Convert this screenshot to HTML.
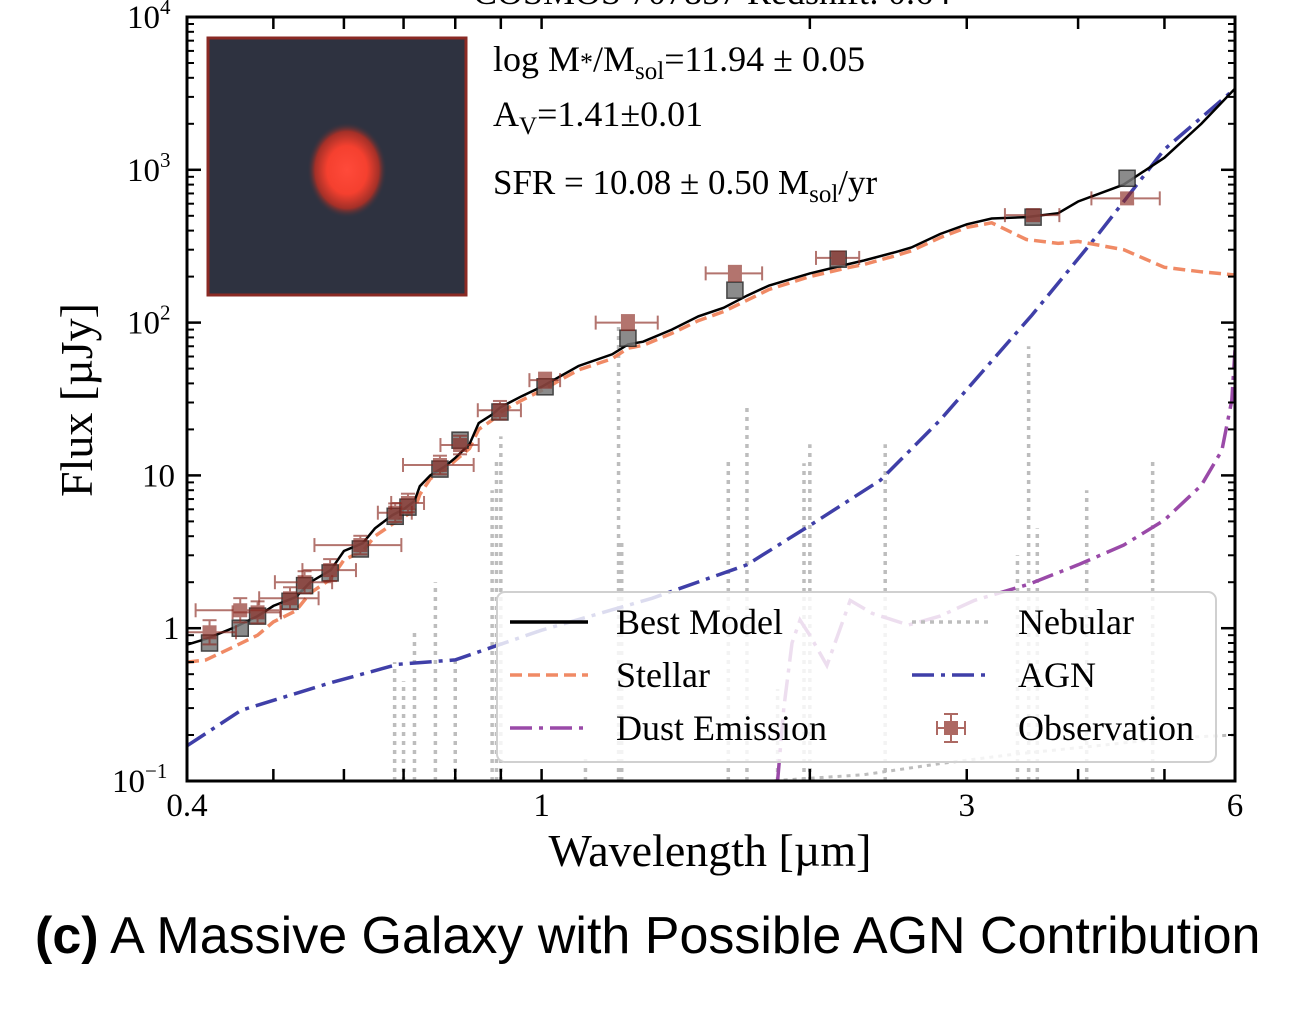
<!DOCTYPE html>
<html><head><meta charset="utf-8">
<style>
html,body{margin:0;padding:0;background:#fff;}
body{width:1314px;height:1016px;overflow:hidden;position:relative;font-family:"Liberation Serif",serif;}
svg{position:absolute;left:0;top:0;}
</style></head>
<body>
<svg id="chart" width="1314" height="1016" viewBox="0 0 1314 1016" xmlns="http://www.w3.org/2000/svg">
  <defs>
    <radialGradient id="blob" cx="50%" cy="50%" r="50%">
      <stop offset="0%" stop-color="#ff4a3a"/>
      <stop offset="50%" stop-color="#f5402f"/>
      <stop offset="80%" stop-color="#a33028"/>
      <stop offset="100%" stop-color="#303440" stop-opacity="0"/>
    </radialGradient>
    <clipPath id="plotclip"><rect x="187" y="17" width="1048" height="764"/></clipPath>
  </defs>
  <text x="712" y="4" text-anchor="middle" font-size="36" font-family="Liberation Serif, serif">COSMOS 707857 Redshift: 0.64</text>
  <g id="plot" clip-path="url(#plotclip)"></g>
  <g id="legend"></g>
  <g id="axes"></g>
</svg>
<div style="position:absolute;left:35px;top:906px;font-family:'Liberation Sans',sans-serif;font-size:52px;color:#000;white-space:nowrap;"><b>(c)</b> A Massive Galaxy with Possible AGN Contribution</div>
<script>
// ---- data ----
const modelWave = [0.4,0.42,0.45,0.48,0.5,0.53,0.55,0.58,0.6,0.63,0.65,0.68,0.7,0.72,0.73,0.75,0.78,0.8,0.83,0.85,0.88,0.9,0.95,1.0,1.1,1.2,1.25,1.3,1.4,1.5,1.6,1.7,1.8,2.0,2.2,2.3,2.5,2.6,2.8,3.0,3.2,3.5,3.8,4.0,4.5,5.0,5.5,6.0];
const modelFlux = [0.78,0.85,1.0,1.2,1.4,1.6,2.0,2.4,3.2,3.6,4.5,5.5,6.0,6.8,8.5,10,11.5,13,16,22,25,28,33,38,52,62,72,75,90,110,125,150,175,210,240,255,290,310,380,440,480,490,520,620,800,1200,2000,3400];
const stellarFlux = [0.6,0.62,0.75,0.9,1.1,1.3,1.7,2.1,2.8,3.2,4.0,4.8,5.3,6.0,7.5,9.5,11,12.5,15,20,23,26,31,36,49,58,68,71,85,103,118,140,165,200,228,240,275,295,360,420,450,350,330,340,300,230,215,205];
const agnWave = [0.4,0.46,0.58,0.69,0.8,1.0,1.33,1.7,2.0,2.4,2.8,3.55,4.2,5.0,6.0];
const agnFlux = [0.17,0.29,0.44,0.58,0.62,0.97,1.57,2.6,4.7,9.3,23,112,370,1360,3400];
const dustWave = [1.84,1.87,1.91,1.95,2.0,2.09,2.15,2.22,2.35,2.58,2.8,3.06,3.53,4.0,4.5,5.0,5.5,5.8,5.95,6.0];
const dustFlux = [0.1,0.3,0.8,1.13,0.9,0.57,0.9,1.52,1.25,1.05,1.2,1.52,1.95,2.6,3.5,5.1,8.6,14.6,31,66];
const nebWave = [0.684,0.70,0.72,0.76,0.80,0.88,0.89,0.9,1.12,1.22,1.23,1.62,1.7,1.84,1.97,2.0,2.43,3.42,3.52,3.6,4.09,4.85];
const nebFlux = [0.6,0.45,0.95,2.0,0.65,8,12.5,18,0.15,100,3.8,13,28,0.4,12,16,16,3,70,4.5,8,13];
const nebContWave = [1.35,1.8,2.3,2.8,3.4,4.2,5.0,6.0];
const nebContFlux = [0.1,0.1,0.11,0.13,0.15,0.17,0.19,0.2];
const obsWave = [0.424,0.459,0.480,0.522,0.542,0.579,0.626,0.685,0.708,0.769,0.810,0.898,1.009,1.250,1.648,2.152,3.561,4.54];
const obsFlux = [0.94,1.31,1.27,1.57,2.0,2.4,3.5,5.7,6.6,11.7,15.8,26.7,42,100,210,265,505,650];
const obsWaveErr = [0.03,0.05,0.03,0.04,0.04,0.04,0.07,0.03,0.03,0.07,0.04,0.05,0.04,0.1,0.12,0.12,0.25,0.4];
const obsFluxErrFrac = [0.2,0.2,0.18,0.18,0.18,0.18,0.15,0.15,0.15,0.15,0.15,0.15,0.12,0.12,0.12,0.1,0.08,0.08];
const modelPhotFlux = [0.8,1.0,1.2,1.5,1.9,2.3,3.3,5.4,6.2,11,17,26,38,79,163,260,490,880];
const xTickLabels = ["0.4","1","3","6"];
const xTickValues = [0.4,1,3,6];
const xMinorValues = [0.5,0.6,0.7,0.8,0.9,2,4,5];

// ---- scales ----
const X0=187,X1=1235,Y0=781,Y1=17;
const LX0=Math.log10(0.4),LX1=Math.log10(6),LY0=-1,LY1=4;
function xs(v){return X0+(Math.log10(v)-LX0)/(LX1-LX0)*(X1-X0);}
function ys(v){return Y0-(Math.log10(v)-LY0)/(LY1-LY0)*(Y0-Y1);}
const NS="http://www.w3.org/2000/svg";
function mk(tag,attrs,parent){const e=document.createElementNS(NS,tag);for(const k in attrs)e.setAttribute(k,attrs[k]);parent.appendChild(e);return e;}
function pathD(w,f){return w.map((v,i)=>(i?"L":"M")+xs(v).toFixed(1)+","+ys(f[i]).toFixed(1)).join(" ");}
const plot=document.getElementById('plot');
const axes=document.getElementById('axes');
const legend=document.getElementById('legend');

// inset image
let g=mk('g',{},plot);


mk('rect',{x:208,y:38,width:258,height:257,fill:'#2e3240',stroke:'#8a2a24','stroke-width':3},g);
mk('ellipse',{cx:347,cy:170,rx:40,ry:48,fill:'url(#blob)'},g);

// nebular lines
nebWave.forEach((w,i)=>{
  const l=mk('line',{x1:xs(w),x2:xs(w),y1:Y0,y2:ys(nebFlux[i]),stroke:'#bdbdbd','stroke-width':3.5,'stroke-dasharray':'4 5'},plot);
  
  
});
let p=mk('path',{d:pathD(nebContWave,nebContFlux),fill:'none',stroke:'#bdbdbd','stroke-width':3,'stroke-dasharray':'4 5'},plot);



// AGN
p=mk('path',{d:pathD(agnWave,agnFlux),fill:'none',stroke:'#3f3fa8','stroke-width':3.5,'stroke-dasharray':'22 7 4 7'},plot);


// dust
p=mk('path',{d:pathD(dustWave,dustFlux),fill:'none',stroke:'#9a4aa8','stroke-width':3.5,'stroke-dasharray':'22 7 4 7'},plot);


// stellar
p=mk('path',{d:pathD(modelWave,stellarFlux),fill:'none',stroke:'#f08a65','stroke-width':3.5,'stroke-dasharray':'12 6'},plot);


// model
p=mk('path',{d:pathD(modelWave,modelFlux),fill:'none',stroke:'#000','stroke-width':2.5},plot);



// model photometry squares
modelPhotFlux.forEach((f,i)=>{
  const r=mk('rect',{x:xs(obsWave[i])-8,y:ys(f)-8,width:16,height:16,fill:'#777',stroke:'#222','stroke-width':1.5,opacity:0.85},plot);
  
  
});
// observations
obsWave.forEach((w,i)=>{
  const og=mk('g',{stroke:'#8b2a22','stroke-width':2,opacity:0.65},plot);
  
  
  const f=obsFlux[i],e=obsFluxErrFrac[i],we=obsWaveErr[i];
  const xa=xs(w-we),xb=xs(w+we),x=xs(w),ya=ys(f*(1+e)),yb=ys(f/(1+e)),y=ys(f);
  mk('line',{x1:xa,x2:xb,y1:y,y2:y},og);
  mk('line',{x1:x,x2:x,y1:ya,y2:yb},og);
  mk('line',{x1:xa,x2:xa,y1:y-7,y2:y+7},og);
  mk('line',{x1:xb,x2:xb,y1:y-7,y2:y+7},og);
  mk('line',{x1:x-7,x2:x+7,y1:ya,y2:ya},og);
  mk('line',{x1:x-7,x2:x+7,y1:yb,y2:yb},og);
  mk('rect',{x:x-6,y:y-6,width:12,height:12,fill:'#8b2a22'},og);
});

// annotations
function txt(parent,x,y,html,name,size,anchor){const t=mk('text',{x:x,y:y,'font-size':size||32,'font-family':'Liberation Serif, serif','text-anchor':anchor||'start'},parent);t.innerHTML=html;return t;}
txt(plot,493,71,'log M<tspan font-size="26">*</tspan>/M<tspan font-size="25" dy="8">sol</tspan><tspan dy="-8">=11.94 ± 0.05</tspan>','stellar-mass-annotation',36);
txt(plot,493,126,'A<tspan font-size="25" dy="8">V</tspan><tspan dy="-8">=1.41±0.01</tspan>','extinction-annotation',36);
txt(plot,493,194,'SFR = 10.08 ± 0.50 M<tspan font-size="25" dy="8">sol</tspan><tspan dy="-8">/yr</tspan>','sfr-annotation',35);

// legend
let lb=mk('rect',{x:497,y:592,width:719,height:170,rx:8,fill:'#fff','fill-opacity':0.82,stroke:'#d0d0d0','stroke-width':2},legend);


const legItems=[
 {x:510,y:622,label:'Best Model',stroke:'#000',dash:'',name:'legend-best-model'},
 {x:510,y:675,label:'Stellar',stroke:'#f08a65',dash:'12 6',name:'legend-stellar'},
 {x:510,y:728,label:'Dust Emission',stroke:'#9a4aa8',dash:'22 7 4 7',name:'legend-dust-emission'},
 {x:912,y:622,label:'Nebular',stroke:'#bdbdbd',dash:'4 5',name:'legend-nebular'},
 {x:912,y:675,label:'AGN',stroke:'#3f3fa8',dash:'22 7 4 7',name:'legend-agn'},
 {x:912,y:728,label:'Observation',stroke:null,name:'legend-observation'}];
legItems.forEach(it=>{
  const lg=mk('g',{},legend);
  
  
  if(it.stroke){mk('line',{x1:it.x,x2:it.x+78,y1:it.y,y2:it.y,stroke:it.stroke,'stroke-width':3.5,'stroke-dasharray':it.dash},lg);}
  else{const og=mk('g',{stroke:'#8b2a22','stroke-width':2,opacity:0.7},lg);
    const cx=it.x+39,cy=it.y;
    mk('line',{x1:cx-14,x2:cx+14,y1:cy,y2:cy},og);mk('line',{x1:cx,x2:cx,y1:cy-14,y2:cy+14},og);
    mk('line',{x1:cx-14,x2:cx-14,y1:cy-7,y2:cy+7},og);mk('line',{x1:cx+14,x2:cx+14,y1:cy-7,y2:cy+7},og);
    mk('line',{x1:cx-7,x2:cx+7,y1:cy-14,y2:cy-14},og);mk('line',{x1:cx-7,x2:cx+7,y1:cy+14,y2:cy+14},og);
    mk('rect',{x:cx-6,y:cy-6,width:12,height:12,fill:'#8b2a22'},og);}
  txt(lg,it.x+106,it.y+12,it.label,it.name+'-label',36);
});

// axes frame
let fr=mk('rect',{x:X0,y:Y1,width:X1-X0,height:Y0-Y1,fill:'none',stroke:'#000','stroke-width':3},axes);


// x ticks
xTickValues.concat(xMinorValues).forEach(v=>{
  const x=xs(v);
  mk('line',{x1:x,x2:x,y1:Y0,y2:Y0-12,stroke:'#000','stroke-width':2.5},axes);
  mk('line',{x1:x,x2:x,y1:Y1,y2:Y1+12,stroke:'#000','stroke-width':2.5},axes);
});
xTickValues.forEach((v,i)=>{txt(axes,xs(v),816,xTickLabels[i],'x-tick-label',33,'middle');});
// y ticks
for(let d=-1;d<=4;d++){
  const y=ys(Math.pow(10,d));
  mk('line',{x1:X0,x2:X0+14,y1:y,y2:y,stroke:'#000','stroke-width':2.5},axes);
  mk('line',{x1:X1,x2:X1-14,y1:y,y2:y,stroke:'#000','stroke-width':2.5},axes);
  if(d<4){for(let m=2;m<=9;m++){const ym=ys(m*Math.pow(10,d));
    mk('line',{x1:X0,x2:X0+7,y1:ym,y2:ym,stroke:'#000','stroke-width':2},axes);
    mk('line',{x1:X1,x2:X1-7,y1:ym,y2:ym,stroke:'#000','stroke-width':2},axes);}}
}
const yLabs={'-1':'10<tspan font-size="21" dy="-14">−1</tspan>','0':'1','1':'10','2':'10<tspan font-size="21" dy="-14">2</tspan>','3':'10<tspan font-size="21" dy="-14">3</tspan>','4':'10<tspan font-size="21" dy="-14">4</tspan>'};
const yLabX={'-1':112,'0':163,'1':142,'2':127,'3':127,'4':127};
for(let d=-1;d<=4;d++){txt(axes,yLabX[d],ys(Math.pow(10,d))+11,yLabs[d],'y-tick-label',33);}
txt(axes,710,866,'Wavelength [µm]','x-axis-title',46,'middle');
const yt=txt(axes,0,0,'Flux [µJy]','y-axis-title',46,'middle');
yt.setAttribute('transform','translate(92,400) rotate(-90)');
</script>
</body></html>
